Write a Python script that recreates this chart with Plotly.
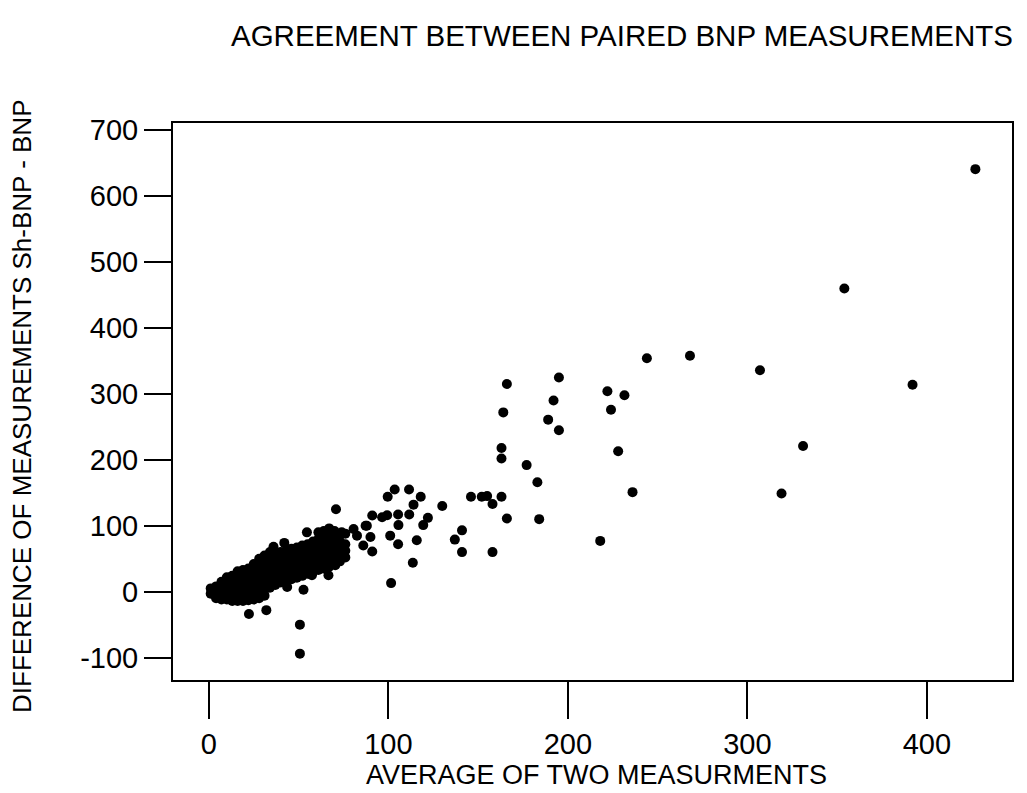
import plotly.graph_objects as go

# Bland-Altman style agreement data: average of the two BNP assays (x)
# against their difference Sh-BNP minus BNP (y).

# Sparse high-range observations
avg_high = [427, 354, 307, 392, 331, 319, 268, 244, 195, 166, 222, 231.5, 192, 224,
            164, 189, 195, 163, 163, 228, 177, 183, 236, 146, 152, 155, 163, 158,
            130, 166, 184, 141, 137, 141, 158, 218]
diff_high = [641, 460, 336, 314, 221, 149, 358, 354, 325, 315, 304, 298, 290, 276,
             272, 261, 245, 218, 202, 213, 192, 166, 151, 144, 144, 145, 144, 133,
             130, 111, 110, 93, 79, 60, 60, 77]

# Mid-range observations around the main band
avg_mid = [103.5, 111.5, 99.6, 118, 114, 70.8, 105.4, 111.6, 122, 99.3, 91, 96.5,
           105.6, 87.3, 119.4, 115.8, 105.4, 91, 113.6, 101.5, 52.7, 43.6, 22.3, 32,
           50.7, 50.7, 42, 54.6, 61, 36, 68.5, 74, 80.6, 88, 101, 90, 86, 82.5, 76,
           66.6, 57.4, 70.4]
diff_mid = [155, 155, 144, 144, 132, 125, 117, 117, 112, 116, 115.5, 113,
            101, 100, 101, 78, 72, 61, 44, 13, 3, 7, -34, -28,
            -50, -94, 74, 90, 90, 68, 83, 90, 95, 100, 85, 83, 70, 85, 88,
            25, 25, 40]

# Dense low-range cluster, listed column by column of the average value
cluster_avg = [1, 1,
               4, 4, 4,
               7, 7, 7, 7,
               10, 10, 10, 10, 10,
               13, 13, 13, 13, 13,
               16, 16, 16, 16, 16, 16,
               19, 19, 19, 19, 19, 19,
               22, 22, 22, 22, 22, 22,
               25, 25, 25, 25, 25, 25, 25,
               28, 28, 28, 28, 28, 28, 28, 28,
               31, 31, 31, 31, 31, 31, 31, 31,
               34, 34, 34, 34, 34, 34, 34,
               37, 37, 37, 37, 37, 37,
               40, 40, 40, 40, 40, 40,
               43, 43, 43, 43, 43, 43,
               46, 46, 46, 46, 46, 46,
               49, 49, 49, 49, 49, 49,
               52, 52, 52, 52, 52, 52,
               55, 55, 55, 55, 55, 55,
               58, 58, 58, 58, 58, 58,
               61, 61, 61, 61, 61, 61,
               64, 64, 64, 64, 64, 64, 64,
               67, 67, 67, 67, 67, 67, 67,
               70, 70, 70, 70, 70, 70,
               73, 73, 73, 73, 73,
               76, 76, 76]
cluster_diff = [-3, 5,
                -10, 0, 8,
                -12, -3, 6, 15,
                -12, -3, 6, 15, 22,
                -14, -4, 6, 15, 24,
                -14, -4, 6, 15, 24, 31,
                -14, -4, 6, 15, 24, 33,
                -13, -3, 7, 16, 25, 35,
                -12, -2, 8, 17, 26, 35, 42,
                -10, 0, 9, 18, 27, 36, 44, 50,
                -6, 3, 12, 21, 30, 39, 48, 55,
                6, 15, 24, 33, 42, 51, 60,
                10, 19, 28, 37, 46, 56,
                14, 23, 32, 41, 50, 60,
                16, 25, 34, 43, 52, 62,
                19, 28, 37, 46, 55, 65,
                21, 30, 39, 48, 57, 67,
                24, 33, 42, 51, 60, 70,
                27, 36, 45, 54, 63, 72,
                30, 39, 48, 57, 66, 76,
                33, 42, 51, 60, 69, 80,
                35, 45, 55, 65, 74, 84, 92,
                38, 48, 58, 68, 78, 88, 96,
                42, 52, 62, 72, 82, 92,
                46, 56, 66, 76, 86,
                52, 62, 72]

x_ticks = [0, 100, 200, 300, 400]
y_ticks = [-100, 0, 100, 200, 300, 400, 500, 600, 700]
y_tick_text = ["-100", "0", "100", "200", "300", "400", "500", "600", "700"]

FONT = "Liberation Sans, Arial, sans-serif"

fig = go.Figure()
for xs, ys in [(cluster_avg, cluster_diff), (avg_mid, diff_mid), (avg_high, diff_high)]:
    fig.add_trace(go.Scatter(
        x=xs, y=ys, mode="markers",
        marker=dict(color="black", size=10, line=dict(width=0)),
        showlegend=False, hoverinfo="x+y",
    ))

axis_common = dict(
    showline=True, linecolor="black", linewidth=2, mirror=True,
    ticks="outside", tickcolor="black", tickwidth=2,
    showgrid=False, zeroline=False,
    tickfont=dict(family=FONT, size=29, color="black"),
)

fig.update_layout(
    width=1027, height=793,
    margin=dict(l=173, r=15, t=123, b=113),
    paper_bgcolor="white", plot_bgcolor="white",
    xaxis=dict(range=[-20, 447.4], tickvals=x_ticks, ticklen=37, **axis_common),
    yaxis=dict(range=[-134, 711], tickvals=y_ticks, ticktext=y_tick_text,
               ticklen=27, **axis_common),
    annotations=[
        dict(text="AGREEMENT BETWEEN PAIRED BNP MEASUREMENTS",
             xref="paper", yref="paper", x=(622 - 173) / 839, y=1 + (123 - 35) / 557,
             xanchor="center", yanchor="middle", showarrow=False,
             font=dict(family=FONT, size=29.5, color="black")),
        dict(text="AVERAGE OF TWO MEASURMENTS",
             xref="paper", yref="paper", x=(596 - 173) / 839, y=-(775 - 680) / 557,
             xanchor="center", yanchor="middle", showarrow=False,
             font=dict(family=FONT, size=27, color="black")),
        dict(text="DIFFERENCE OF MEASUREMENTS Sh-BNP - BNP", textangle=-90,
             xref="paper", yref="paper", x=-(173 - 22) / 839, y=(680 - 406) / 557,
             xanchor="center", yanchor="middle", showarrow=False,
             font=dict(family=FONT, size=26, color="black")),
    ],
)

fig.write_html("out.html")
